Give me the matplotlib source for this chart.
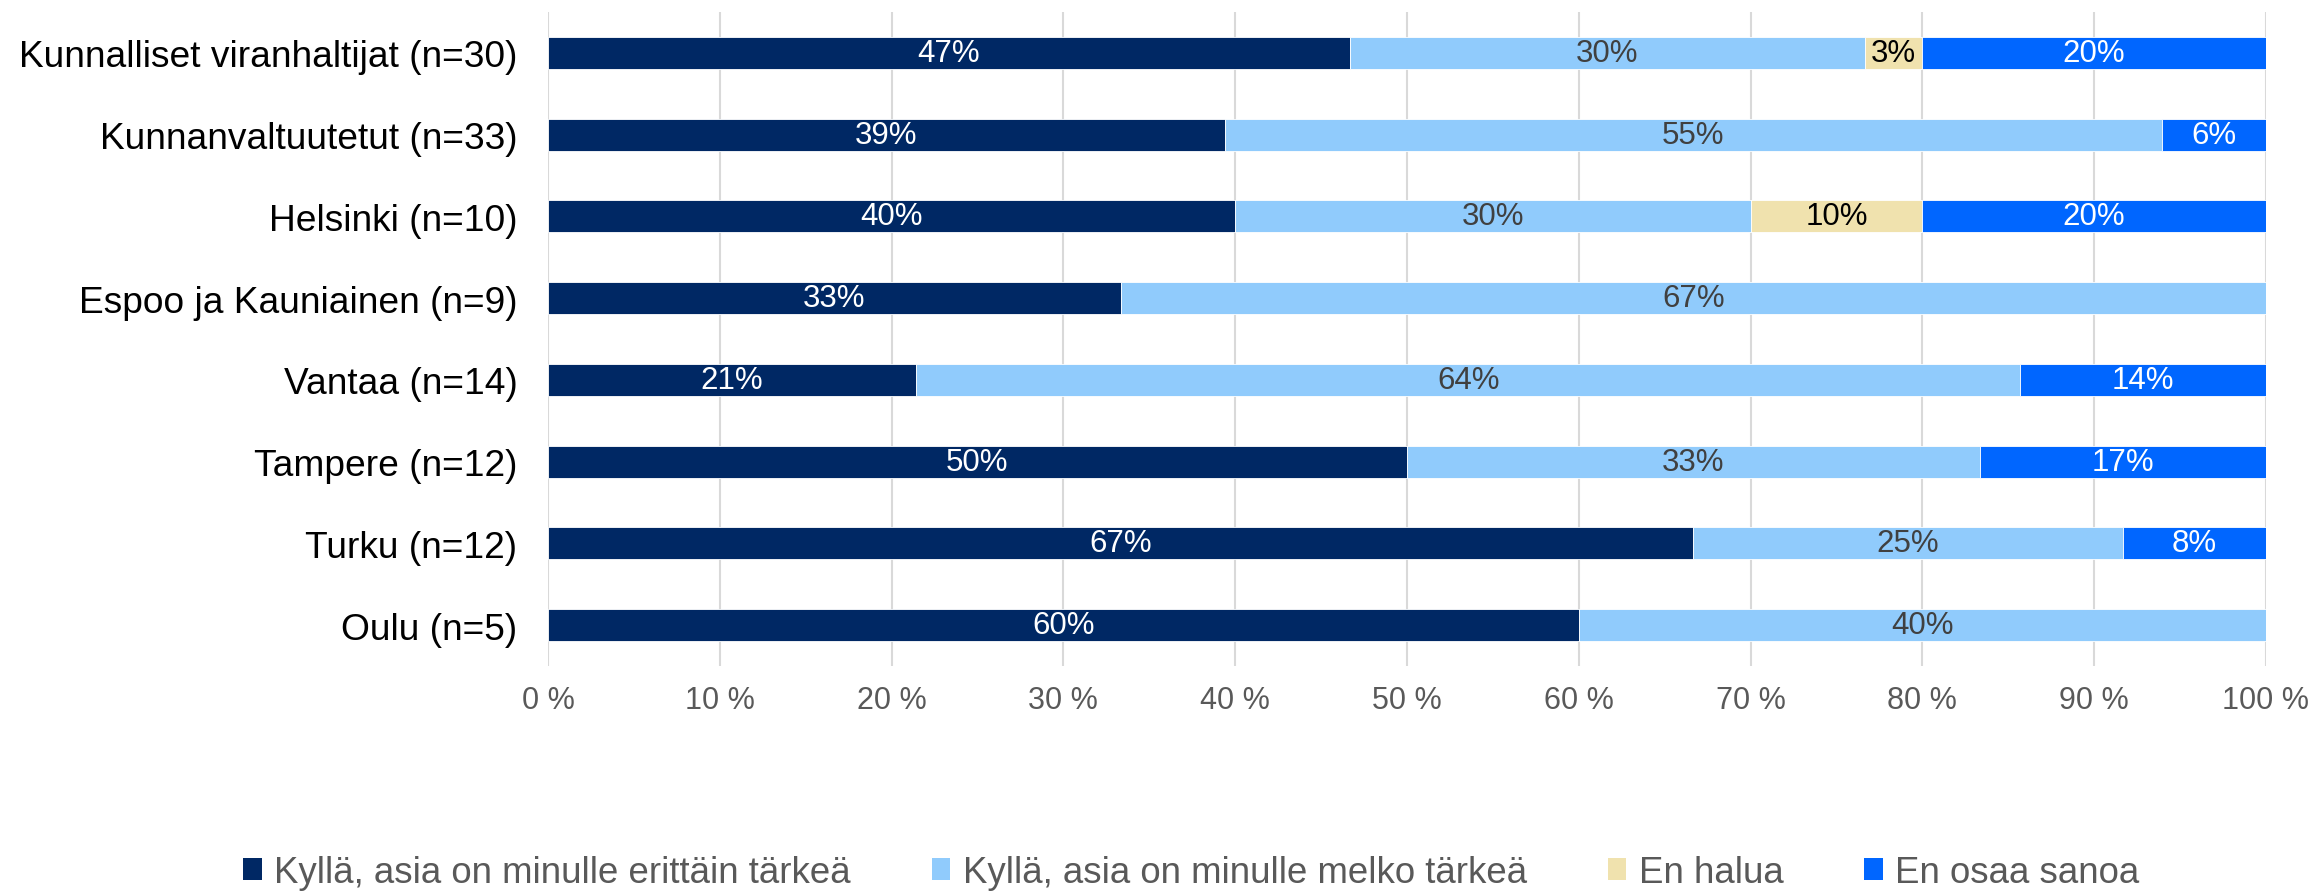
import matplotlib.pyplot as plt
from matplotlib.patches import Patch
from matplotlib.ticker import FuncFormatter

plt.rcParams['font.family'] = ['Liberation Sans', 'DejaVu Sans']

# Vastaajaryhmät ja vastausten lukumäärät (n)
groups = ['Kunnalliset viranhaltijat (n=30)', 'Kunnanvaltuutetut (n=33)', 'Helsinki (n=10)',
          'Espoo ja Kauniainen (n=9)', 'Vantaa (n=14)', 'Tampere (n=12)', 'Turku (n=12)', 'Oulu (n=5)']
n_total = [30, 33, 10, 9, 14, 12, 12, 5]

erittain = [14, 13, 4, 3, 3, 6, 8, 3]
melko = [9, 18, 3, 6, 9, 4, 3, 2]
en_halua = [1, 0, 1, 0, 0, 0, 0, 0]
en_osaa = [6, 2, 2, 0, 2, 2, 1, 0]

series_names = ['Kyllä, asia on minulle erittäin tärkeä', 'Kyllä, asia on minulle melko tärkeä',
                'En halua', 'En osaa sanoa']
colors = ['#002864', '#90CBFC', '#F0E2AE', '#0066FF']
text_colors = ['white', '#404040', 'black', 'white']

fig = plt.figure(figsize=(23.15, 8.95), dpi=100)
ax = fig.add_axes([0.2367, 0.2547, 0.7421, 0.7308])

ypos = list(range(len(groups)))
left = [0.0] * len(groups)
for counts, col, tcol in zip([erittain, melko, en_halua, en_osaa], colors, text_colors):
    shares = [c / n * 100 for c, n in zip(counts, n_total)]
    ax.barh(ypos, shares, left=left, height=0.39, color=col, edgecolor='white',
            linewidth=0.6, zorder=3)
    for y, l, s in zip(ypos, left, shares):
        if s > 0:
            ax.text(l + s / 2, y, f'{s:.0f}%', ha='center', va='center',
                    color=tcol, fontsize=22.5, zorder=4)
    left = [a + b for a, b in zip(left, shares)]

ax.set_xlim(0, 100)
ax.set_ylim(len(groups) - 0.5, -0.5)
ax.set_xticks(range(0, 101, 10))
ax.xaxis.set_major_formatter(FuncFormatter(lambda v, p: f'{v:.0f} %'))
ax.set_yticks(ypos)
ax.set_yticklabels(groups, fontsize=26.7, color='black')
ax.tick_params(axis='x', labelsize=22, colors='#595959', length=0, pad=14)
ax.tick_params(axis='y', length=0, pad=22)
ax.grid(axis='x', color='#D9D9D9', linewidth=1.5, zorder=0)
for s in ax.spines.values():
    s.set_visible(False)

handles = [Patch(facecolor=c, edgecolor='none') for c in colors]
fig.legend(handles, series_names, loc='center', bbox_to_anchor=(0.5147, 0.024), ncol=4,
           frameon=False, fontsize=26.4, labelcolor='#595959', handlelength=0.5,
           handleheight=0.55, handletextpad=0.35, columnspacing=2.2)

fig.savefig('out.png', dpi=100)
